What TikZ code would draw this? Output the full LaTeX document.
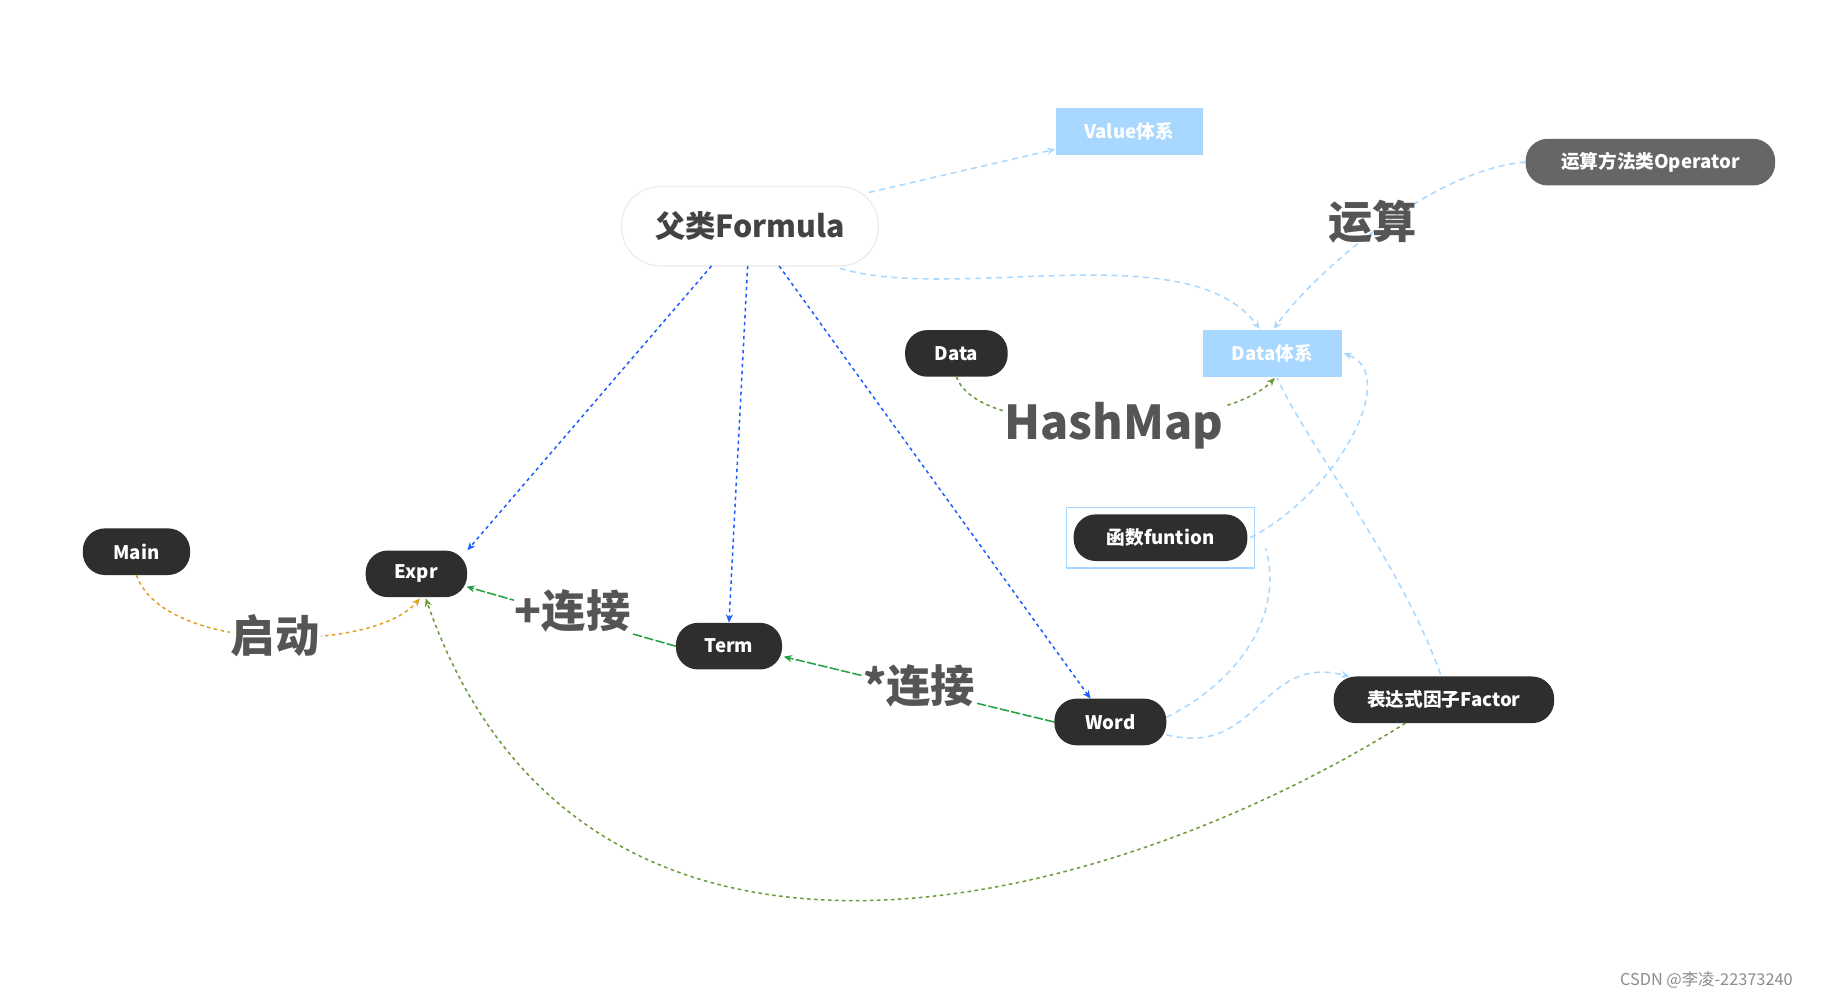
\documentclass[tikz,border=0pt]{standalone}
\usepackage{fontspec}
\setmainfont{Noto Sans CJK SC}
\usetikzlibrary{arrows.meta}
\definecolor{lb}{HTML}{A8D8FF}
\definecolor{bl}{HTML}{1E5EFF}
\definecolor{gr}{HTML}{6A9A3A}
\definecolor{gg}{HTML}{22A040}
\definecolor{og}{HTML}{E0A020}
\definecolor{dk}{HTML}{2E2E2E}
\definecolor{tx}{HTML}{555555}
\begin{document}
\begin{tikzpicture}[x=1pt,y=-1pt,
 pill/.style={rounded corners=19pt,fill=dk,text=white,font=\bfseries\fontsize{16}{18}\selectfont,minimum height=40pt,inner xsep=10pt},
 box/.style={fill=lb,text=white,font=\bfseries\fontsize{16}{18}\selectfont,minimum height=40pt},
 lbl/.style={text=tx,font=\bfseries\fontsize{38}{40}\selectfont,fill=white,inner sep=1pt},
 ld/.style={lb,dashed,line width=1.3pt,dash pattern=on 5pt off 4pt},
 arr/.style={-{Stealth[length=7pt,width=6pt]}}]
\useasboundingbox (0,0) rectangle (1563,855);
\fill[white] (0,0) rectangle (1563,855);
% edges first
\node[box,minimum width=126pt] (val) at (968,113) {Value体系};
\node[box,minimum width=119pt] (ds) at (1091,303) {Data体系};
\node[draw=black!8,line width=1pt,rounded corners=33pt,fill=white,minimum width=220pt,minimum height=68pt,font=\bfseries\fontsize{26}{28}\selectfont,text=dk!90] (f) at (643,194) {父类Formula};
\node[pill,fill=black!60,minimum width=214pt] (op) at (1415,139) {运算方法类Operator};
\node[pill,minimum width=88pt] (data) at (820,303) {Data};
\node[draw=lb,line width=1.2pt,minimum width=161pt,minimum height=52pt] (fb) at (995,461) {};
\node[pill,minimum width=149pt] (fn) at (995,461) {函数funtion};
\node[pill,minimum width=92pt] (main) at (117,473) {Main};
\node[pill,minimum width=87pt] (expr) at (357,492) {Expr};
\node[pill,minimum width=91pt] (term) at (625,554) {Term};
\node[pill,minimum width=96pt] (word) at (952,619) {Word};
\node[pill,minimum width=189pt] (fac) at (1238,600) {表达式因子Factor};
\coordinate (f1) at (745,165);
\draw[ld,arr] (f1) -- (val.west|-0,128);
\draw[bl,dashed,line width=1.3pt,arr] (610,228) -- (expr.north east);
\draw[bl,dashed,line width=1.3pt,arr] (641,228) -- (term.north);
\draw[bl,dashed,line width=1.3pt,arr] (668,228) -- (935,599);
\draw[ld,arr] (720,230) .. controls (820,260) and (1020,200) .. (1080,282);
\draw[ld,arr] (op.west) .. controls (1230,145) and (1130,230) .. (1092,282);
\draw[ld,arr] (1072,461) .. controls (1150,420) and (1200,320) .. (1152,303);
\draw[ld] (1000,615) .. controls (1070,580) and (1100,520) .. (1085,470);
\draw[ld,arr] (1000,630) .. controls (1080,650) and (1080,560) .. (1157,580);
\draw[ld] (1235,578) .. controls (1200,480) and (1120,380) .. (1095,324);
\draw[gr,dashed,line width=1.3pt,arr] (820,323) .. controls (840,380) and (1050,370) .. (1093,324);
\draw[gr,dashed,line width=1.3pt,arr] (1205,620) .. controls (950,780) and (500,900) .. (365,513);
\draw[og,dashed,line width=1.3pt,arr] (117,493) .. controls (140,560) and (320,560) .. (360,513);
\draw[gg,dashed,line width=1.3pt,dash pattern=on 8pt off 2pt,arr] (term.west) -- (400,503);
\draw[gg,dashed,line width=1.3pt,dash pattern=on 8pt off 2pt,arr] (word.west) -- (672,563);
\node[lbl,fill=none] at (1177,190) {运算};
\node[lbl,font=\bfseries\fontsize{40}{42}\selectfont] at (955,365) {HashMap};
\node[lbl] at (236,545) {启动};
\node[lbl] at (491,524) {+连接};
\node[lbl] at (788,588) {*连接};
\node[text=black!45,font=\fontsize{14}{16}\selectfont] at (1463,840) {CSDN @李凌-22373240};
\end{tikzpicture}
\end{document}
